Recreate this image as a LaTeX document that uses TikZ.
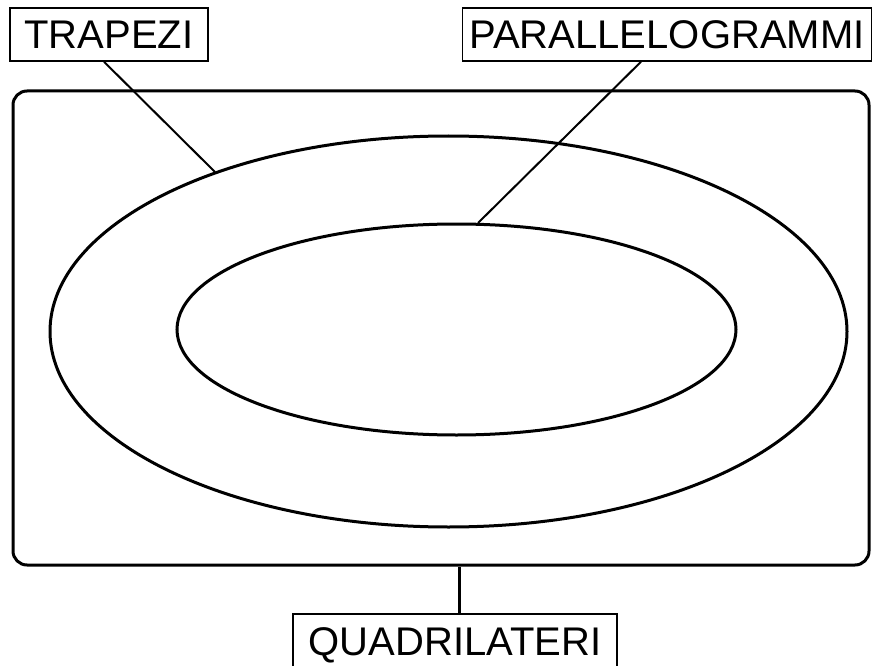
\documentclass[tikz,border=0pt]{standalone}
\usepackage{fontspec}
\setmainfont{Liberation Sans}
\usetikzlibrary{shapes.geometric,calc}
\begin{document}
\begin{tikzpicture}[x=1pt,y=-1pt,
  lbl/.style={draw=black,line width=1.5pt,inner sep=0pt,minimum height=53pt,
    text height=29pt,text depth=0pt,font=\fontsize{40}{48}\selectfont},
  frame/.style={draw=black,line width=3pt,rounded corners=14pt,inner sep=0pt},
  ring/.style={ellipse,draw=black,line width=3pt,inner sep=0pt},
  conn/.style={draw=black,line width=2pt}]
\useasboundingbox (0,0) rectangle (873,666);
\node[frame,minimum width=856pt,minimum height=474pt] (box) at (441,328) {};
\node[ring,minimum width=797pt,minimum height=391pt] (outer) at (448.5,331.5) {};
\node[ring,minimum width=559pt,minimum height=211pt] (inner) at (456.5,329.5) {};
\node[lbl,minimum width=198pt] (trap) at (109,34.5) {TRAPEZI};
\node[lbl,minimum width=409pt] (para) at (667,34.5) {PARALLELOGRAMMI};
\node[lbl,minimum width=324pt] (quad) at (455,640.5) {QUADRILATERI};
\coordinate (tend) at (215,172);
\coordinate (pend) at (478,223);
\draw[conn] ([xshift=-5pt]trap.south) -- (tend);
\draw[conn] ([xshift=-26pt]para.south) -- (pend);
\draw[conn,line width=3pt] ([xshift=4pt]quad.north) -- ([xshift=4pt]quad.north |- box.south);
\end{tikzpicture}
\end{document}
